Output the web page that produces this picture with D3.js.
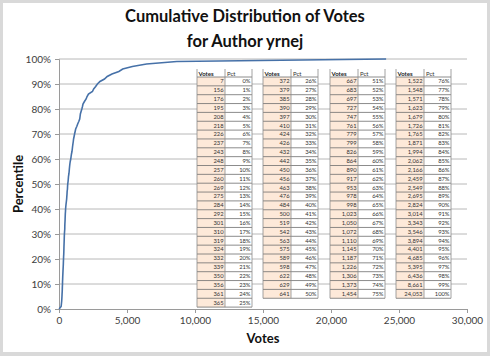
<!DOCTYPE html>
<html><head><meta charset="utf-8">
<script src="https://cdn.jsdelivr.net/npm/d3@7"></script>
<style>body{margin:0;background:#fff}svg{display:block}</style>
</head><body>
<svg id="c" width="490" height="356"></svg>
<script>
// Data: votes at each percentile 0..100
const votes = [7,156,176,195,208,218,226,237,243,248,257,260,269,275,284,292,301,310,319,324,332,339,350,356,361,365,
  372,379,385,390,397,410,424,426,432,442,450,456,463,476,484,500,519,542,563,575,589,598,622,629,641,
  667,683,697,727,747,761,779,799,826,864,890,917,953,978,998,1023,1050,1072,1110,1145,1187,1226,1306,1373,1454,
  1522,1548,1571,1623,1679,1726,1765,1871,1994,2062,2166,2459,2549,2695,2824,3014,3343,3546,3894,4401,4685,5395,6436,8661,24053];
const pct = [0,1,2,3,4,5,6,7,8,9,10,11,12,13,14,15,16,17,18,19,20,21,22,23,24,25,
  26,27,28,29,30,31,32,33,34,35,36,37,38,39,40,41,42,43,44,45,46,47,48,49,50,
  51,52,53,54,55,56,57,58,59,60,61,62,63,64,65,66,67,68,69,70,71,72,73,74,75,
  76,77,78,79,80,81,82,83,84,85,86,87,88,89,90,91,92,93,94,95,96,97,98,99,100];
const xTicks = [0,5000,10000,15000,20000,25000,30000];
const yTicks = [0,10,20,30,40,50,60,70,80,90,100];
const tableRanges = [[0,25],[26,50],[51,75],[76,100]];
const titleLines = ["Cumulative Distribution of Votes","for Author yrnej"];

const svg = d3.select("#c");
const font = "Lato, 'Open Sans', sans-serif";
svg.append("rect").attr("width",490).attr("height",356).attr("fill","#d9d9d9");
svg.append("rect").attr("x",3).attr("y",3).attr("width",484).attr("height",349).attr("fill","#fff");

const x = d3.scaleLinear().domain([0,30000]).range([59,467]);
const y = d3.scaleLinear().domain([0,100]).range([309,59]);

// gridlines
svg.append("g").selectAll("line").data(yTicks.filter(d=>d>0)).join("line")
  .attr("x1",x(0)).attr("x2",x(30000)).attr("y1",d=>y(d)).attr("y2",d=>y(d))
  .attr("stroke","#a6a6a6").attr("stroke-width",0.8);

// axes
const xa = svg.append("g").attr("transform",`translate(0,${y(0)})`)
  .call(d3.axisBottom(x).tickValues(xTicks).tickFormat(d3.format(",")).tickSize(4).tickPadding(4));
const ya = svg.append("g").attr("transform",`translate(${x(0)},0)`)
  .call(d3.axisLeft(y).tickValues(yTicks).tickFormat(d=>d+"%").tickSize(4).tickPadding(4));
[xa,ya].forEach(a=>{
  a.selectAll("path,line").attr("stroke","#9a9a9a");
  a.selectAll("text").attr("font-family",font).attr("font-size",10).attr("fill","#404040");
});

// tables
const tX = [197,263,330,396], vW = 28, pW = 27, hdrY = 69, hdrH = 8, rowH = 8.85;
const fmt = d3.format(",");
tableRanges.forEach((r,ti)=>{
  const g = svg.append("g");
  const idx = d3.range(r[0], r[1]+1);
  const x0 = tX[ti];
  const n = idx.length;
  const bottom = hdrY + hdrH + n*rowH;
  g.append("rect").attr("x",x0).attr("y",hdrY).attr("width",vW+pW).attr("height",bottom-hdrY).attr("fill","#fff");
  g.append("rect").attr("x",x0).attr("y",hdrY+hdrH).attr("width",vW).attr("height",n*rowH).attr("fill","#fde9d9");
  g.append("text").attr("x",x0+1.5).attr("y",hdrY+6.5).text("Votes")
    .attr("font-family",font).attr("font-size",6).attr("font-weight","bold").attr("fill","#222");
  g.append("text").attr("x",x0+vW+2).attr("y",hdrY+6.5).text("Pct")
    .attr("font-family",font).attr("font-size",6).attr("fill","#333");
  g.selectAll("line.h").data(d3.range(n+1)).join("line")
    .attr("x1",x0).attr("x2",x0+vW+pW)
    .attr("y1",i=>hdrY+hdrH+i*rowH).attr("y2",i=>hdrY+hdrH+i*rowH)
    .attr("stroke","#6e6e6e").attr("stroke-width",0.8);
  [x0, x0+vW, x0+vW+pW].forEach(vx=>{
    g.append("line").attr("x1",vx).attr("x2",vx).attr("y1",hdrY).attr("y2",bottom)
      .attr("stroke","#8a8a8a").attr("stroke-width",0.8);
  });
  g.selectAll("text.v").data(idx).join("text")
    .attr("x",x0+vW-1.5).attr("y",(d,i)=>hdrY+hdrH+i*rowH+6.3).attr("text-anchor","end")
    .text(d=>fmt(votes[d])).attr("font-family",font).attr("font-size",5.8).attr("fill","#333");
  g.selectAll("text.p").data(idx).join("text")
    .attr("x",x0+vW+pW-1.5).attr("y",(d,i)=>hdrY+hdrH+i*rowH+6.3).attr("text-anchor","end")
    .text(d=>pct[d]+"%").attr("font-family",font).attr("font-size",5.8).attr("fill","#333");
});

// line
const pts = votes.map((v,i)=>[v,pct[i]]);
svg.append("path").datum(pts)
  .attr("d", d3.line().x(d=>x(d[0])).y(d=>y(d[1])))
  .attr("fill","none").attr("stroke","#4671a8").attr("stroke-width",1.6);

// titles
svg.append("text").attr("x",245).attr("y",22).attr("text-anchor","middle").text(titleLines[0])
  .attr("font-family",font).attr("font-size",16.5).attr("font-weight","bold").attr("fill","#111");
svg.append("text").attr("x",245).attr("y",47).attr("text-anchor","middle").text(titleLines[1])
  .attr("font-family",font).attr("font-size",16.5).attr("font-weight","bold").attr("fill","#111");
svg.append("text").attr("transform","translate(23,184) rotate(-90)").attr("text-anchor","middle")
  .text("Percentile").attr("font-family",font).attr("font-size",13).attr("font-weight","bold").attr("fill","#111");
svg.append("text").attr("x",263).attr("y",343).attr("text-anchor","middle")
  .text("Votes").attr("font-family",font).attr("font-size",13).attr("font-weight","bold").attr("fill","#111");
</script>
</body></html>
